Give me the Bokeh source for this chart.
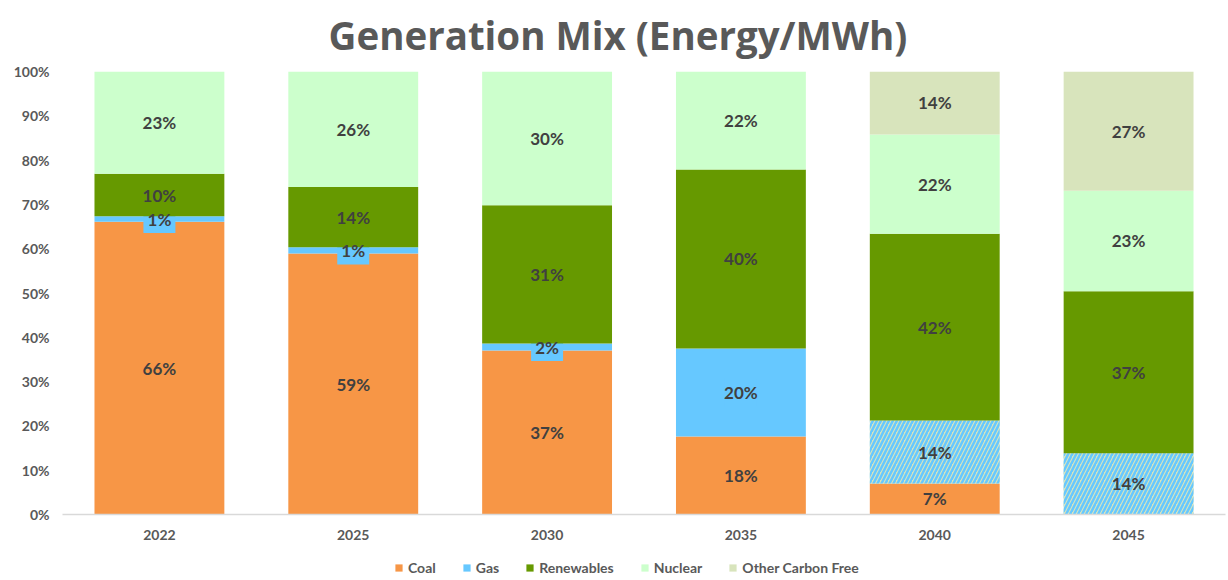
from bokeh.plotting import figure
from bokeh.layouts import column
from bokeh.models import ColumnDataSource, LabelSet, Legend, LegendItem, FixedTicker, Range1d, FactorRange
from bokeh.core.properties import value
from bokeh.embed import file_html
from bokeh.resources import INLINE

years = ["2022", "2025", "2030", "2035", "2040", "2045"]
coal = [66.1, 58.9, 37.0, 17.6, 7.0, 0.0]
gas = [1.2, 1.4, 1.6, 19.9, 14.2, 13.8]
renewables = [9.6, 13.6, 31.2, 40.4, 42.2, 36.6]
nuclear = [23.1, 26.1, 30.2, 22.1, 22.4, 22.7]
other = [0.0, 0.0, 0.0, 0.0, 14.2, 26.9]
gas_hatched = [False, False, False, False, True, True]
y_ticks = [0, 10, 20, 30, 40, 50, 60, 70, 80, 90, 100]
series_names = ["Coal", "Gas", "Renewables", "Nuclear", "Other Carbon Free"]
series_values = [coal, gas, renewables, nuclear, other]
colors = ["#F79646", "#66C8FF", "#669900", "#CCFFCC", "#D8E4BC"]

FONT = "Lato"
GREY = "#595959"
LABEL = "#404040"

p = figure(width=1228, height=556, x_range=FactorRange(*years, range_padding=0),
           y_range=Range1d(0, 100), output_backend="svg", toolbar_location=None,
           title="Generation Mix (Energy/MWh)", min_border_left=62, min_border_right=3,
           min_border_top=71, min_border_bottom=42)
p.title.align = "left"
p.title.offset = 266
p.title.vertical_align = "top"
p.title.standoff = 17
p.title.text_font = "Open Sans"
p.title.text_font_size = "38.5px"
p.title.text_font_style = "bold"
p.title.text_color = GREY
p.outline_line_color = None
p.xgrid.grid_line_color = None
p.ygrid.grid_line_color = None

label_sets = []
bottoms = [0.0] * len(years)
for i, (name, vals) in enumerate(zip(series_names, series_values)):
    tops = [b + v for b, v in zip(bottoms, vals)]
    mids = [(b + t) / 2 for b, t in zip(bottoms, tops)]
    if name == "Gas":
        fills = [colors[4] if h else colors[1] for h in gas_hatched]
        hatches = ["/" if h else " " for h in gas_hatched]
    else:
        fills = [colors[i]] * len(years)
        hatches = [" "] * len(years)
    src = ColumnDataSource(dict(x=years, bottom=bottoms, top=tops, mid=mids, fill=fills, hatch=hatches))
    p.vbar(x="x", bottom="bottom", top="top", width=0.67, source=src, fill_color="fill",
           line_color=None, hatch_pattern="hatch", hatch_color=colors[1],
           hatch_weight=2.5, hatch_scale=8)

    lx, ly, lt, bgx, bgy = [], [], [], [], []
    for k, v in enumerate(vals):
        if v <= 0:
            continue
        lx.append(years[k]); ly.append(mids[k]); lt.append(f"{round(v)}%")
        if name == "Gas" and not gas_hatched[k]:
            bgx.append(years[k]); bgy.append(mids[k])
    if bgx:
        p.rect(x="x", y="y", width=32, height=28, width_units="screen", height_units="screen",
               source=ColumnDataSource(dict(x=bgx, y=bgy)), fill_color=colors[1], line_color=None)
    label_sets.append(LabelSet(x="x", y="y", text="t", source=ColumnDataSource(dict(x=lx, y=ly, t=lt)),
                               text_align="center", text_baseline="middle", text_font=value(FONT),
                               text_font_size=value("17px"), text_font_style="bold", text_color=LABEL))
    bottoms = tops

for ls in label_sets:
    p.add_layout(ls)

p.yaxis.ticker = FixedTicker(ticks=y_ticks)
p.yaxis.major_label_overrides = {t: f"{t}%" for t in y_ticks}
p.yaxis.axis_line_color = None
p.yaxis.major_tick_line_color = None
p.yaxis.minor_tick_line_color = None
p.yaxis.major_label_text_font = FONT
p.yaxis.major_label_text_font_size = "14px"
p.yaxis.major_label_text_font_style = "bold"
p.yaxis.major_label_text_color = GREY
p.yaxis.major_label_standoff = 7

p.xaxis.axis_line_color = "#D9D9D9"
p.xaxis.axis_line_width = 1.5
p.xaxis.major_tick_line_color = None
p.xaxis.minor_tick_line_color = None
p.xaxis.major_label_text_font = FONT
p.xaxis.major_label_text_font_size = "14px"
p.xaxis.major_label_text_font_style = "bold"
p.xaxis.major_label_text_color = GREY
p.xaxis.major_label_standoff = 9

# legend strip below the chart (swatch renderers sit outside its visible range)
lf = figure(width=1228, height=24, output_backend="svg", toolbar_location=None,
            x_axis_type=None, y_axis_type=None, min_border=0,
            x_range=Range1d(0, 1), y_range=Range1d(0, 1))
lf.outline_line_color = None
lf.xgrid.grid_line_color = None
lf.ygrid.grid_line_color = None
items = []
for name, c in zip(series_names, colors):
    r = lf.vbar(x="x", top="top", bottom="bottom", width=0.1,
                source=ColumnDataSource(dict(x=[-1.0], top=[-1.0], bottom=[-2.0])),
                fill_color=c, line_color=None)
    items.append(LegendItem(label=name, renderers=[r]))
legend = Legend(items=items, orientation="horizontal", location=(332, 4),
                border_line_color=None, background_fill_alpha=0,
                label_text_font=FONT, label_text_font_size="14px", label_text_font_style="bold",
                label_text_color=GREY, glyph_width=9, glyph_height=9, label_standoff=5,
                label_height=14, spacing=26, padding=0, margin=0)
lf.add_layout(legend, "center")

open("out.html", "w").write(file_html(column(p, lf, spacing=0), INLINE))
